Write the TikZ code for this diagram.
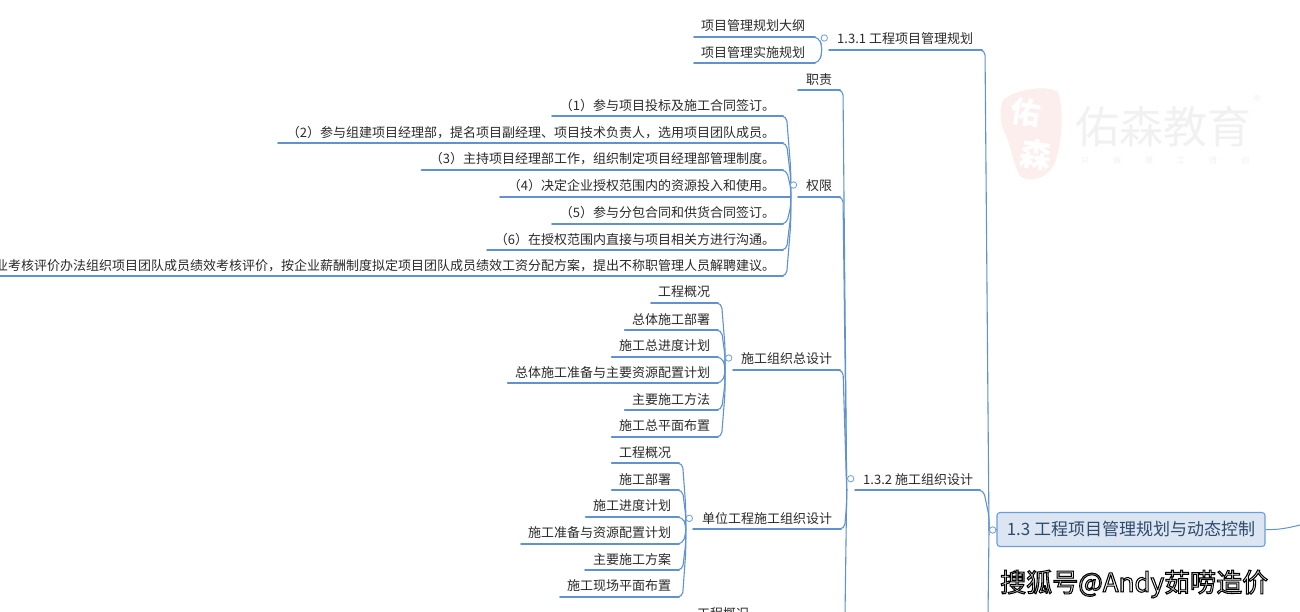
\documentclass[tikz,border=0pt]{standalone}
\usepackage{fontspec}
\setmainfont{Noto Sans CJK SC}
\usetikzlibrary{calc}
\definecolor{linec}{HTML}{5F92CE}
\definecolor{txt}{HTML}{2A2A2A}
\definecolor{rootfill}{HTML}{DCE6F3}
\definecolor{rootline}{HTML}{6C9FD8}
\definecolor{roottxt}{HTML}{2F4A6B}
\definecolor{wmgrey}{HTML}{F1F1F1}
\definecolor{wmpink}{HTML}{FCEEED}
\tikzset{
  topic/.style={inner sep=0pt,outer sep=0pt,text=txt,font=\fontsize{13}{15}\selectfont},
  underl/.style={draw=linec,line width=1.8pt,line cap=round},
  branch/.style={draw=linec,line width=1.1pt,rounded corners=5pt,line cap=round},
  collapse/.style={circle,draw=rootline,fill=white,line width=.8pt,inner sep=0pt,minimum size=6.4pt},
}
% name, text right, line left, line right, line y, text
\newcommand\topic[6]{%
  \node[topic,anchor=base east] (#1) at (#2,#5-6) {#6};
  \coordinate (#1-l) at (#3,{round(#5)});
  \coordinate (#1-r) at (#4,{round(#5)});
  \draw[underl] (#1-l) -- (#1-r);
}
% leaf connector, bowed towards the hub
\newcommand\leafc[2]{%
  \draw[branch] (#1-r) -- ++(3.5,0) -- ($(#2)!.35!(#2|-#1-r)$) -- (#2);
}
% long straight connector
\newcommand\spinec[2]{%
  \draw[branch] (#1-r) -- ++(3,0) -- (#2);
}
\begin{document}
\begin{tikzpicture}[x=1pt,y=-1pt]
\useasboundingbox (0,0) rectangle (1300,611);
\clip (0,0) rectangle (1300,611);
\fill[white] (0,0) rectangle (1300,611);

% watermark logo
\fill[wmpink] (1003,100) .. controls (1015,90) and (1045,84) .. (1058,92)
  .. controls (1064,110) and (1062,140) .. (1056,160)
  .. controls (1050,178) and (1030,184) .. (1020,176)
  .. controls (1012,160) and (1012,150) .. (1006,135)
  .. controls (1000,125) and (999,110) .. (1003,100) -- cycle;
\node[inner sep=0pt,text=white,font=\fontsize{30}{30}\selectfont\bfseries,rotate=-8] (sealA) at (1026,112) {佑};
\node[inner sep=0pt,text=white,font=\fontsize{32}{32}\selectfont\bfseries,rotate=-8] (sealB) at (1036,155) {森};
\node[inner sep=0pt,text=wmgrey,font=\fontsize{44}{46}\selectfont] (brand) at (1163.5,127) {佑森教育};
\node[inner sep=0pt,text=wmgrey,font=\fontsize{14}{14}\selectfont] (regmark) at (1257,101) {®};
\node[inner sep=0pt,text=wmgrey,font=\fontsize{8}{8}\selectfont] (slogan) at (1165,160) {只\hspace{24pt}做\hspace{24pt}建\hspace{24pt}工\hspace{24pt}培\hspace{24pt}训};

% hubs
\coordinate (h0) at (989,530);
\coordinate (h131) at (821.7,49.6);
\coordinate (h132) at (846.7,490);
\coordinate (hq) at (790.7,197);
\coordinate (hz) at (725,369.5);
\coordinate (hd) at (685.7,529);
\coordinate (end0) at (988,615);
\coordinate (end132) at (845,615);

% root
\node[draw=rootline,fill=rootfill,rounded corners=3pt,line width=1.1pt,text=roottxt,
  font=\fontsize{17}{19}\selectfont,inner sep=0pt,minimum width=268pt,minimum height=34pt] (root) at (1131,529.5) {1.3 工程项目管理规划与动态控制};
\coordinate (rightend) at (1300,525);
\draw[draw=linec,line width=1pt] (root.east) .. controls (1278,530) and (1288,528) .. (rightend);
\draw[branch] (h0) -- (root.west);
\draw[branch] (h0) -- (end0);
\draw[branch] (h132) -- (end132);

% level 1
\topic{a}{973}{829}{982}{49.6}{1.3.1 工程项目管理规划}
\topic{b}{973}{855}{980}{490}{1.3.2 施工组织设计}
\spinec{a}{h0}
\leafc{b}{h0}

% 1.3.1 children
\topic{a1}{805}{694}{815}{36.5}{项目管理规划大纲}
\topic{a2}{805}{694}{815}{63}{项目管理实施规划}
\leafc{a1}{h131}
\leafc{a2}{h131}

% 1.3.2 children
\topic{c1}{832}{798}{840}{90}{职责}
\topic{c2}{832}{798}{840}{196.5}{权限}
\topic{c3}{832}{733}{840}{369.5}{施工组织总设计}
\topic{c4}{832}{693}{841}{529.3}{单位工程施工组织设计}
\spinec{c1}{h132}
\spinec{c2}{h132}
\spinec{c3}{h132}
\leafc{c4}{h132}

% 权限 children
\topic{q1}{775}{552}{783}{116}{（1）参与项目投标及施工合同签订。}
\topic{q2}{775}{278}{783}{143}{（2）参与组建项目经理部，提名项目副经理、项目技术负责人，选用项目团队成员。}
\topic{q3}{775}{421.5}{783}{169.5}{（3）主持项目经理部工作，组织制定项目经理部管理制度。}
\topic{q4}{775}{500}{783}{196.5}{（4）决定企业授权范围内的资源投入和使用。}
\topic{q5}{775}{552}{783}{223.5}{（5）参与分包合同和供货合同签订。}
\topic{q6}{775}{487}{783}{250}{（6）在授权范围内直接与项目相关方进行沟通。}
\topic{q7}{775}{-2}{783}{276}{业考核评价办法组织项目团队成员绩效考核评价，按企业薪酬制度拟定项目团队成员绩效工资分配方案，提出不称职管理人员解聘建议。}
\leafc{q1}{hq}
\leafc{q2}{hq}
\leafc{q3}{hq}
\draw[branch] (q4-r) -- (hq);
\leafc{q5}{hq}
\leafc{q6}{hq}
\leafc{q7}{hq}

% 施工组织总设计 children
\topic{z1}{710}{651}{718}{302.7}{工程概况}
\topic{z2}{710}{624.7}{718}{330}{总体施工部署}
\topic{z3}{710}{611.7}{718}{356.5}{施工总进度计划}
\topic{z4}{710}{507.7}{718}{383}{总体施工准备与主要资源配置计划}
\topic{z5}{710}{624.7}{718}{410}{主要施工方法}
\topic{z6}{710}{611.7}{718}{436.5}{施工总平面布置}
\foreach \k in {z1,z2,z3,z4,z5,z6} {\leafc{\k}{hz}}

% 单位工程施工组织设计 children
\topic{d1}{671}{611.7}{679}{463.3}{工程概况}
\topic{d2}{671}{611.7}{679}{490}{施工部署}
\topic{d3}{671}{585.7}{679}{516.5}{施工进度计划}
\topic{d4}{671}{521}{679}{543.5}{施工准备与资源配置计划}
\topic{d5}{671}{585}{679}{570}{主要施工方案}
\topic{d6}{671}{560}{679}{596.5}{施工现场平面布置}
\foreach \k in {d1,d2,d3,d4,d5,d6} {\leafc{\k}{hd}}

% partly visible next topic
\node[topic,anchor=base east] (e1) at (749,618) {工程概况};

% collapse markers
\node[collapse] (m0) at (992.7,530) {};
\node[collapse] (m1) at (824.3,38) {};
\node[collapse] (m2) at (850.7,478.7) {};
\node[collapse] (m3) at (793.5,185) {};
\node[collapse] (m4) at (728.7,358) {};
\node[collapse] (m5) at (689.3,518.3) {};

% overlay caption: white letters with a black edge
\node[inner sep=0pt,anchor=west,text=black,font=\fontsize{26}{28}\selectfont] (caption) at (1000,584) {\special{pdf:code q 2 Tr 1.05 w 0 0 0 RG 1 1 1 rg}搜狐号@Andy茹唠造价\special{pdf:code Q}};
\end{tikzpicture}
\end{document}
